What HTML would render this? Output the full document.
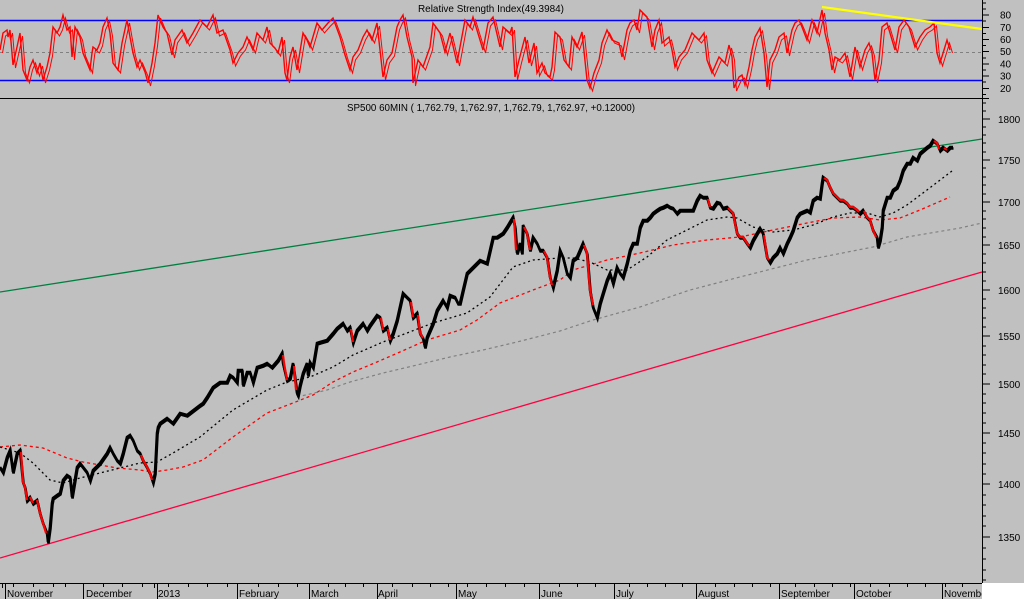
<!DOCTYPE html>
<html>
<head>
<meta charset="utf-8">
<style>
html,body{margin:0;padding:0;background:#C0C0C0;}
svg{display:block;}
text{font-family:"Liberation Sans",Arial,sans-serif;font-size:10px;fill:#000;}
</style>
</head>
<body>
<svg width="1024" height="599" viewBox="0 0 1024 599" xmlns="http://www.w3.org/2000/svg">
<defs>
<polyline id="rsi" fill="none" stroke-linejoin="miter" points="0,50 3,33 7,30 8,37 10,30 13,65 17,47 20,33 23,70 27,80 30,67 33,60 37,73 40,63 43,80 47,67 50,53 53,27 57,33 60,27 63,15 67,30 70,27 72,57 75,27 80,37 83,53 90,70 92,53 93,47 97,50 100,43 103,27 107,18 110,33 113,63 118,70 122,43 127,20 130,37 133,53 137,67 140,60 145,72 148,83 152,63 155,43 158,15 163,27 167,33 172,55 175,40 182,30 187,43 193,33 200,20 207,27 213,15 217,33 223,30 230,50 233,63 238,53 243,47 247,37 253,50 257,33 263,40 267,27 270,43 275,48 278,53 282,37 285,73 287,80 290,57 293,47 297,70 303,33 307,40 310,47 317,23 322,30 328,23 333,18 340,37 345,55 350,70 353,57 358,50 363,37 367,30 372,40 377,23 380,50 383,77 387,60 392,53 397,27 400,20 403,15 407,37 412,57 413,83 418,60 423,67 430,47 433,23 440,33 445,52 450,33 457,63 460,47 465,20 470,27 473,17 480,40 483,50 488,23 493,17 500,47 503,27 510,33 512,27 515,77 519,60 525,37 529,63 534,43 537,73 542,63 545,73 550,77 552,67 555,32 560,37 564,60 569,67 572,37 577,47 582,32 587,80 590,88 594,73 599,60 602,43 607,30 612,40 619,43 622,57 627,30 630,23 634,20 637,30 640,10 647,17 652,47 655,30 659,20 662,43 669,37 672,50 675,67 679,57 685,50 692,33 699,40 704,33 707,60 712,73 719,57 725,63 729,45 732,57 734,88 739,77 742,75 745,85 749,67 752,50 755,37 760,28 764,53 767,87 770,60 775,50 779,37 784,33 787,53 792,30 795,23 799,20 802,27 807,40 812,20 817,33 822,10 825,33 829,50 832,70 835,57 840,60 845,53 850,77 855,47 860,67 865,50 869,43 872,53 875,80 879,60 882,27 887,23 890,33 895,50 899,27 904,20 909,27 912,37 915,47 920,37 925,30 930,27 934,23 937,53 940,63 944,50 947,40 950,50"/>
<polyline id="px" fill="none" stroke-linejoin="miter" points="0,467 3,472 7,457 10,450 13,472 17,453 20,450 23,482 25,487 27,500 30,497 33,503 37,500 40,513 43,523 47,533 48,542 50,527 52,503 53,498 57,495 60,493 63,480 67,475 70,477 72,497 77,467 80,463 87,472 90,480 93,470 100,463 107,453 110,447 113,453 117,460 120,463 123,453 127,437 130,435 133,440 137,450 140,453 143,460 147,467 150,473 153,482 155,473 157,433 158,427 160,423 167,418 173,423 180,413 187,415 200,405 203,403 207,397 213,387 220,382 227,382 230,375 233,377 237,382 238,370 242,370 243,385 247,372 250,372 253,382 257,367 263,365 267,363 272,367 278,360 282,353 283,363 287,380 290,378 293,363 297,393 298,395 300,385 303,373 307,363 308,375 310,362 313,367 317,343 320,342 327,340 333,333 337,328 343,323 347,330 350,327 353,342 357,330 363,323 367,330 370,325 377,315 380,317 383,330 387,327 390,340 393,333 397,320 403,293 407,297 410,300 413,317 417,313 420,333 423,338 425,347 427,337 433,323 437,310 443,300 447,307 450,295 455,297 458,303 460,303 463,290 467,273 473,267 480,260 487,263 490,250 493,237 497,237 503,233 507,227 513,217 515,227 517,253 520,243 522,253 523,225 527,233 530,250 533,237 537,243 540,250 543,250 547,257 550,277 553,287 557,270 560,250 563,257 567,273 570,277 573,260 577,257 580,250 583,243 587,253 590,290 593,307 597,317 600,303 603,293 607,280 610,273 613,283 617,267 620,273 623,277 627,263 630,250 633,243 637,243 640,227 643,220 647,220 650,217 653,213 657,210 660,208 663,207 667,205 670,207 673,208 677,213 680,210 687,210 693,210 697,200 700,195 703,197 707,197 710,207 713,208 717,202 720,203 723,208 727,207 730,210 733,213 737,233 740,237 743,237 747,243 750,247 753,240 757,233 760,228 763,233 767,257 770,262 773,257 777,253 780,247 783,253 787,243 790,237 793,230 797,217 800,213 807,210 810,212 813,200 817,197 820,198 822,183 823,177 827,180 830,187 833,193 837,197 840,200 843,200 847,203 850,207 853,207 857,210 860,213 863,210 867,217 870,220 873,230 877,237 878,247 880,240 882,227 883,210 887,197 890,197 893,190 897,187 900,180 903,170 907,163 910,163 913,157 917,160 920,153 927,147 930,145 933,140 937,143 940,150 943,147 947,150 950,147 953,147"/>
</defs>
<rect x="0" y="0" width="1024" height="599" fill="#C0C0C0"/>

<!-- ===== RSI PANEL ===== -->
<line x1="0" y1="20.5" x2="982" y2="20.5" stroke="#0000FF" stroke-width="1.5"/>
<line x1="0" y1="80.5" x2="982" y2="80.5" stroke="#0000FF" stroke-width="1.5"/>
<line x1="0" y1="52.5" x2="982" y2="52.5" stroke="#808080" stroke-width="1" stroke-dasharray="3,3"/>
<use href="#rsi" stroke="#FF0000" stroke-width="1" transform="translate(2.5,3)"/>
<use href="#rsi" stroke="#FF0000" stroke-width="1.4"/>
<line x1="822" y1="7" x2="982" y2="29" stroke="#FFFF00" stroke-width="2.2"/>
<text x="418" y="12" textLength="146" lengthAdjust="spacingAndGlyphs">Relative Strength Index(49.3984)</text>

<!-- panel separator -->
<line x1="0" y1="98.5" x2="989" y2="98.5" stroke="#000" stroke-width="1.2" shape-rendering="crispEdges"/>

<!-- ===== PRICE PANEL ===== -->
<text x="347" y="111" textLength="288" lengthAdjust="spacingAndGlyphs">SP500 60MIN ( 1,762.79, 1,762.97, 1,762.79, 1,762.97, +0.12000)</text>

<line x1="0" y1="292" x2="982" y2="139" stroke="#008040" stroke-width="1.3"/>
<line x1="0" y1="558" x2="982" y2="272" stroke="#FF0040" stroke-width="1.3"/>

<polyline fill="none" stroke="#808080" stroke-width="1.2" stroke-dasharray="3,3" points="297,397 327,390 350,382 383,373 417,365 450,357 483,350 517,342 560,331 593,320 640,307 690,290 740,277 807,260 873,247 907,237 960,228 982,223"/>

<polyline fill="none" stroke="#FF0000" stroke-width="1.3" stroke-dasharray="3,3" points="0,447 20,445 43,448 67,458 83,462 100,465 117,468 140,470 153,472 167,470 183,467 203,460 233,437 267,413 293,403 313,395 333,382 353,372 377,362 400,352 427,340 460,330 477,320 500,303 533,290 560,280 573,270 607,260 640,253 673,245 707,240 740,237 773,230 807,223 833,218 860,217 880,220 900,218 920,210 950,197"/>

<polyline fill="none" stroke="#000000" stroke-width="1.3" stroke-dasharray="2,3" points="0,447 20,453 33,463 50,480 63,483 80,478 100,473 120,468 140,463 157,462 173,453 200,437 233,410 267,390 287,382 310,377 333,367 353,355 383,342 407,333 433,323 467,313 490,297 513,267 533,260 560,258 573,258 590,262 607,270 627,270 647,257 667,240 687,230 707,220 727,217 737,218 753,227 773,232 793,230 813,225 833,217 850,213 867,213 880,217 893,213 907,205 927,190 952,171"/>

<!-- price -->
<use href="#px" stroke="#000000" stroke-width="2.6" transform="translate(0.5,1.5)"/>
<use href="#px" stroke="#000000" stroke-width="2.6"/>
<path fill="none" stroke="#FF0000" stroke-width="2.2" d="M21,452 L23,482 L25,487 L27,500 M30,497 L33,503 M37,500 L40,513 L43,523 L46,533 M141,455 L143,460 L147,467 L150,473 L152,480 M283,355 L284,363 L287,380 M294,366 L296,390 M351,329 L353,342 M381,318 L383,330 M388,329 L390,340 M411,302 L413,317 M418,315 L420,333 L423,338 M514,219 L516,250 M524,227 L527,233 L530,250 M544,251 L547,257 L550,277 L552,285 M584,245 L587,253 L590,290 L593,305 M708,199 L710,207 M728,208 L730,210 L733,213 L737,233 L740,237 L743,237 L747,243 L749,246 M764,235 L767,257 L769,260 M824,178 L827,180 L830,187 L833,193 L837,197 L840,200 L843,200 L847,203 L850,207 L853,207 L857,210 L859,212 M864,211 L867,217 L870,220 L873,230 L876,237 M934,141 L937,143 L939,149 M944,148 L947,150"/>

<!-- ===== RIGHT AXIS ===== -->
<g stroke="#000" stroke-width="1" shape-rendering="crispEdges">
<line x1="982.5" y1="0" x2="982.5" y2="583"/>
<path d="M982,2.8h4 M982,8.9h4 M982,15h7 M982,21.1h4 M982,27.3h7 M982,33.4h4 M982,39.5h7 M982,45.6h4 M982,51.7h7 M982,57.8h4 M982,63.9h7 M982,70h4 M982,76.1h7 M982,82.2h4 M982,88.3h7 M982,94.4h4"/>
<path d="M982,103h4 M982,111h4 M982,119h8 M982,127h4 M982,135h4 M982,143h4 M982,152h4 M982,160h8 M982,168h4 M982,177h4 M982,185h4 M982,194h4 M982,202h8 M982,211h4 M982,219h4 M982,228h4 M982,237h4 M982,245h8 M982,254h4 M982,263h4 M982,272h4 M982,281h4 M982,290h8 M982,299h4 M982,308h4 M982,318h4 M982,327h4 M982,336h8 M982,346h4 M982,355h4 M982,365h4 M982,374h4 M982,384h8 M982,394h4 M982,403h4 M982,413h4 M982,423h4 M982,433h8 M982,443h4 M982,453h4 M982,464h4 M982,474h4 M982,484h8 M982,495h4 M982,505h4 M982,516h4 M982,526h4 M982,537h8 M982,548h4 M982,559h4 M982,570h4 M982,580h4"/>
</g>
<text x="1000" y="18.5">80</text>
<text x="1000" y="30.8">70</text>
<text x="1000" y="43">60</text>
<text x="1000" y="55.2">50</text>
<text x="1000" y="67.4">40</text>
<text x="1000" y="79.6">30</text>
<text x="1000" y="91.8">20</text>

<text x="998" y="123">1800</text>
<text x="998" y="164">1750</text>
<text x="998" y="206">1700</text>
<text x="998" y="249">1650</text>
<text x="998" y="294">1600</text>
<text x="998" y="340">1550</text>
<text x="998" y="388">1500</text>
<text x="998" y="437">1450</text>
<text x="998" y="488">1400</text>
<text x="998" y="541">1350</text>

<!-- ===== BOTTOM AXIS ===== -->
<g stroke="#000" stroke-width="1" shape-rendering="crispEdges">
<line x1="0" y1="583.5" x2="982" y2="583.5"/>
<path d="M2.5,583v5 M13.5,583v4 M33.5,583v4 M53.5,583v4 M65.5,583v4 M103.5,583v4 M122.5,583v4 M142.5,583v4 M154.5,583v5 M168.5,583v4 M188.5,583v4 M207.5,583v4 M227.5,583v4 M258.5,583v4 M278.5,583v4 M297.5,583v4 M328.5,583v4 M345.5,583v4 M363.5,583v4 M392.5,583v4 M412.5,583v4 M430.5,583v4 M448.5,583v4 M467.5,583v4 M486.5,583v4 M505.5,583v4 M524.5,583v4 M559.5,583v4 M577.5,583v4 M595.5,583v4 M629.5,583v4 M647.5,583v4 M665.5,583v4 M682.5,583v4 M715.5,583v4 M734.5,583v4 M752.5,583v4 M770.5,583v4 M795.5,583v4 M814.5,583v4 M832.5,583v4 M850.5,583v4 M870.5,583v4 M889.5,583v4 M907.5,583v4 M925.5,583v4 M945.5,583v4 M962.5,583v4"/>
<path d="M5.5,583V599 M83.5,583V599 M157.5,583V599 M237.5,583V599 M309.5,583V599 M377.5,583V599 M456.5,583V599 M539.5,583V599 M614.5,583V599 M696.5,583V599 M779.5,583V599 M854.5,583V599 M942.5,583V599"/>
</g>
<text x="7" y="597">November</text>
<text x="86" y="597">December</text>
<text x="158" y="597">2013</text>
<text x="239" y="597">February</text>
<text x="311" y="597">March</text>
<text x="378" y="597">April</text>
<text x="458" y="597">May</text>
<text x="541" y="597">June</text>
<text x="616" y="597">July</text>
<text x="698" y="597">August</text>
<text x="781" y="597">September</text>
<text x="856" y="597">October</text>
<text x="944" y="597">November</text>

<rect x="982" y="583" width="42" height="16" fill="#FFFFFF"/>
</svg>
</body>
</html>
